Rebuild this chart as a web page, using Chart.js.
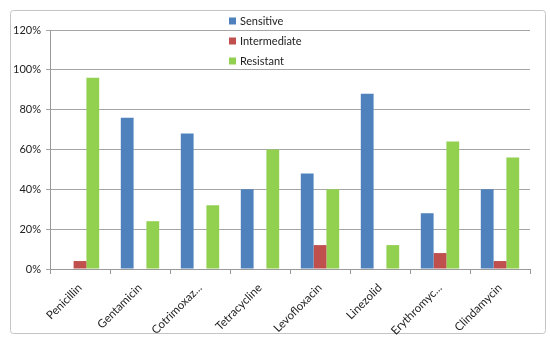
<!DOCTYPE html>
<html>
<head>
<meta charset="utf-8">
<script src="https://cdn.jsdelivr.net/npm/chart.js@4"></script>
<style>
html,body{margin:0;padding:0;background:#fff;}
#wrap{position:relative;width:550px;height:345px;}
</style>
</head>
<body>
<div id="wrap"><canvas id="c" width="550" height="345"></canvas></div>
<script>
const categories = ["Penicillin","Gentamicin","Cotrimoxaz...","Tetracycline","Levofloxacin","Linezolid","Erythromyc...","Clindamycin"];
const sensitive    = [0, 76, 68, 40, 48, 88, 28, 40];
const intermediate = [4, 0, 0, 0, 12, 0, 8, 4];
const resistant    = [96, 24, 32, 60, 40, 12, 64, 56];
const yTicks = [0, 20, 40, 60, 80, 100, 120];

const FONT = "Lato, 'Open Sans', sans-serif";

const frame = {
  id: 'frame',
  beforeDraw(chart) {
    const ctx = chart.ctx;
    ctx.save();
    ctx.fillStyle = '#fff';
    ctx.fillRect(0, 0, chart.width, chart.height);
    ctx.strokeStyle = '#c4c4c4';
    ctx.lineWidth = 1;
    ctx.beginPath();
    ctx.roundRect(10.5, 10.5, 535, 323, 3);
    ctx.stroke();
    ctx.restore();
  }
};

const innerLegend = {
  id: 'innerLegend',
  afterDraw(chart) {
    const ctx = chart.ctx;
    ctx.save();
    ctx.font = "11px " + FONT;
    ctx.textBaseline = 'middle';
    ctx.textAlign = 'left';
    chart.data.datasets.forEach((ds, i) => {
      const y = 21 + i * 20;
      ctx.fillStyle = ds.backgroundColor;
      ctx.fillRect(229, y - 3.5, 7, 7);
      ctx.fillStyle = '#222';
      ctx.fillText(ds.label, 240, y);
    });
    ctx.restore();
  }
};

new Chart(document.getElementById('c'), {
  type: 'bar',
  data: {
    labels: categories,
    datasets: [
      {label: 'Sensitive', data: sensitive, backgroundColor: '#4F81BD'},
      {label: 'Intermediate', data: intermediate, backgroundColor: '#C0504D'},
      {label: 'Resistant', data: resistant, backgroundColor: '#92D050'}
    ]
  },
  options: {
    responsive: false,
    animation: false,
    devicePixelRatio: 1,
    layout: {padding: {left: 0, top: 30, right: 20, bottom: 0}},
    datasets: {bar: {categoryPercentage: 0.64, barPercentage: 1.0}},
    plugins: {legend: {display: false}, tooltip: {enabled: false}},
    scales: {
      x: {
        grid: {display: true, drawOnChartArea: false, drawTicks: true, tickLength: 5, offset: true, color: '#999'},
        border: {color: '#999'},
        ticks: {minRotation: 45, maxRotation: 45, autoSkip: false, padding: 7, color: '#222', font: {family: FONT, size: 11.5}},
        afterFit(scale) { scale.height = 76; }
      },
      y: {
        min: 0, max: 120,
        afterBuildTicks(scale) { scale.ticks = yTicks.map(v => ({value: v})); },
        grid: {color: '#a6a6a6', tickLength: 4},
        border: {color: '#999'},
        ticks: {padding: 5, color: '#222', font: {family: FONT, size: 11}, callback: v => v + '%'},
        afterFit(scale) { scale.width = 50; }
      }
    }
  },
  plugins: [frame, innerLegend]
});
</script>
</body>
</html>
